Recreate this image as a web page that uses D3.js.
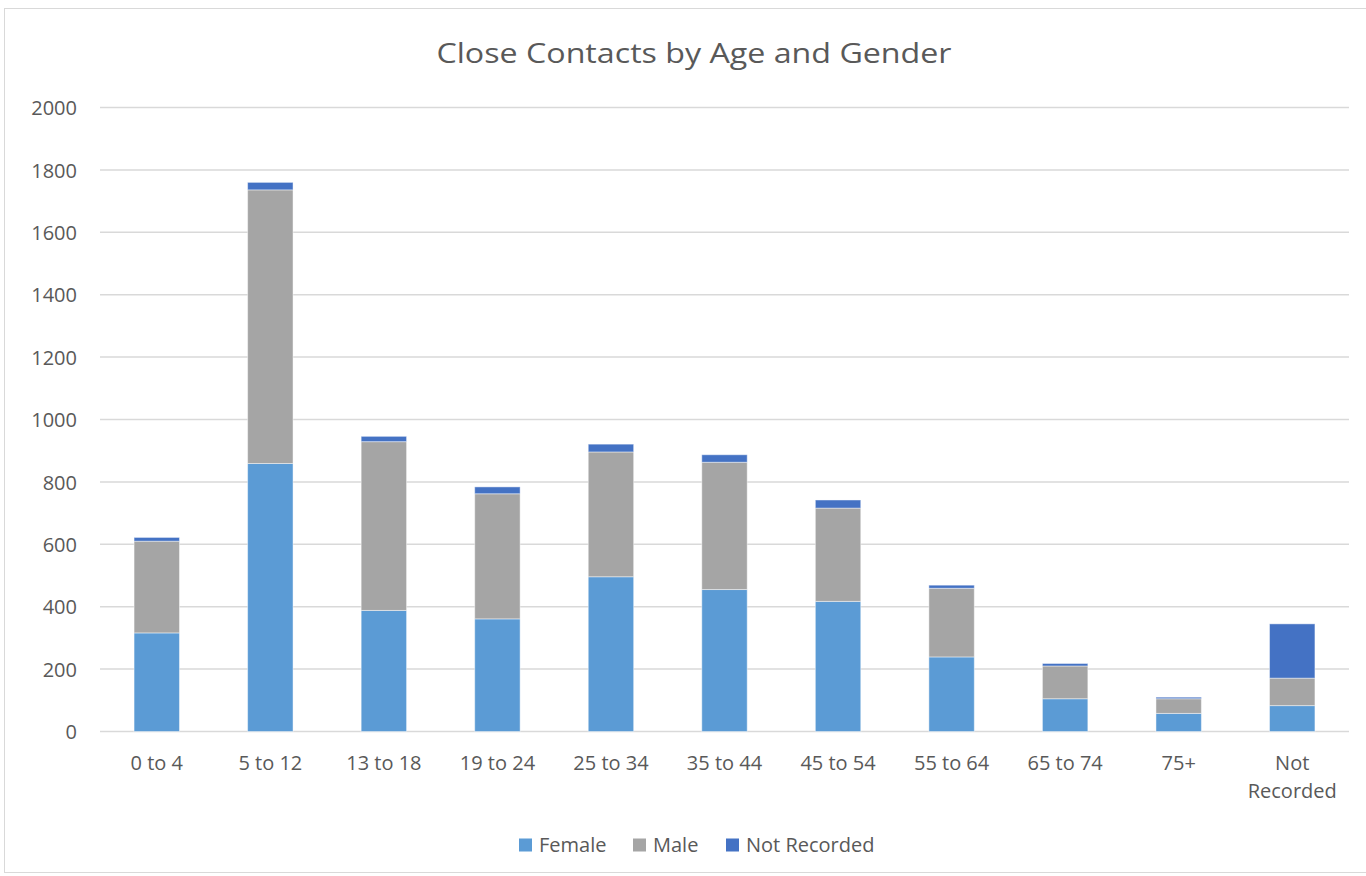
<!DOCTYPE html>
<html>
<head>
<meta charset="utf-8">
<script src="https://cdn.jsdelivr.net/npm/d3@7"></script>
<style>
  html, body { margin: 0; padding: 0; background: #fff; }
  svg { display: block; }
  svg text { font-family: "Open Sans", "Noto Sans", sans-serif; }
</style>
</head>
<body>
<svg id="chart" width="1366" height="876"></svg>
<script>
// Age groups along the x axis
const categories = ["0 to 4", "5 to 12", "13 to 18", "19 to 24", "25 to 34", "35 to 44",
                    "45 to 54", "55 to 64", "65 to 74", "75+", "Not Recorded"];
// Close contacts per gender, stacked in this order
const female      = [316, 859, 388, 361, 496, 455, 417, 239, 105, 58, 83];
const male        = [294, 877, 541, 401, 400, 408, 299, 220, 105, 47, 88];
const notRecorded = [12, 24, 17, 22, 25, 24, 26, 10, 8, 5, 174];
const seriesNames = ["Female", "Male", "Not Recorded"];
const yTicks = [0, 200, 400, 600, 800, 1000, 1200, 1400, 1600, 1800, 2000];

const colors = { "Female": "#5B9BD5", "Male": "#A5A5A5", "Not Recorded": "#4472C4" };
const textColor = "#595959";

const svg = d3.select("#chart");
const W = 1366, H = 876;

// outer chart frame
svg.append("rect")
  .attr("x", 4.5).attr("y", 8.5).attr("width", W - 4).attr("height", H - 12)
  .attr("fill", "#fff").attr("stroke", "#d9d9d9").attr("stroke-width", 1);

const plot = { left: 100, right: 1349, top: 107.5, bottom: 731.5 };

const rows = categories.map((c, i) => ({
  category: c, "Female": female[i], "Male": male[i], "Not Recorded": notRecorded[i]
}));
const stacked = d3.stack().keys(seriesNames)(rows);

const x = d3.scaleBand().domain(categories).range([plot.left, plot.right]).paddingInner(0.6).paddingOuter(0.3);
const y = d3.scaleLinear().domain([0, 2000]).range([plot.bottom, plot.top]);

// gridlines
svg.append("g")
  .selectAll("line").data(yTicks).join("line")
  .attr("x1", plot.left).attr("x2", plot.right)
  .attr("y1", d => y(d)).attr("y2", d => y(d))
  .attr("stroke", "#d9d9d9").attr("stroke-width", 1.5);

// y axis labels
const yAxis = d3.axisLeft(y).tickValues(yTicks).tickSize(0).tickPadding(0).tickFormat(d3.format("d"));
const yg = svg.append("g").attr("transform", `translate(77,0)`).call(yAxis);
yg.attr("font-family", null).attr("font-size", null);
yg.select(".domain").remove();
yg.selectAll("text").attr("fill", textColor).style("font-size", "20px").attr("dy", "0.36em");

// stacked bars
svg.append("g")
  .selectAll("g").data(stacked).join("g")
  .attr("fill", d => colors[d.key])
  .selectAll("rect").data(d => d).join("rect")
  .attr("x", d => x(d.data.category))
  .attr("width", x.bandwidth())
  .attr("y", d => y(d[1]))
  .attr("height", d => y(d[0]) - y(d[1]))
  .attr("stroke", "rgba(255,255,255,0.45)").attr("stroke-width", 1);

// x axis labels (the last category wraps onto two lines)
const xAxis = d3.axisBottom(x).tickSize(0).tickPadding(0);
const xg = svg.append("g").attr("transform", `translate(0,${plot.bottom + 31})`).call(xAxis);
xg.attr("font-family", null).attr("font-size", null);
xg.select(".domain").remove();
xg.selectAll("text").attr("fill", textColor).style("font-size", "20px").attr("dy", "0.36em")
  .each(function(d) {
    if (d === "Not Recorded") {
      const t = d3.select(this);
      t.text(null);
      d.split(" ").forEach((w, i) =>
        t.append("tspan").attr("x", 0).attr("dy", i === 0 ? "0.36em" : "1.4em").text(w));
    }
  });

// title
svg.append("text")
  .attr("transform", "translate(694,63) scale(1.15,1)")
  .attr("text-anchor", "middle")
  .attr("fill", textColor)
  .style("font-size", "28px")
  .text("Close Contacts by Age and Gender");

// legend
const legendItems = [
  { name: "Female", x: 519 },
  { name: "Male", x: 633 },
  { name: "Not Recorded", x: 726 }
];
const lg = svg.append("g");
legendItems.forEach(item => {
  lg.append("rect").attr("x", item.x).attr("y", 838.5).attr("width", 13).attr("height", 13)
    .attr("fill", colors[item.name]);
  lg.append("text").attr("x", item.x + 20).attr("y", 852)
    .attr("fill", textColor).style("font-size", "20px").text(item.name);
});
</script>
</body>
</html>
